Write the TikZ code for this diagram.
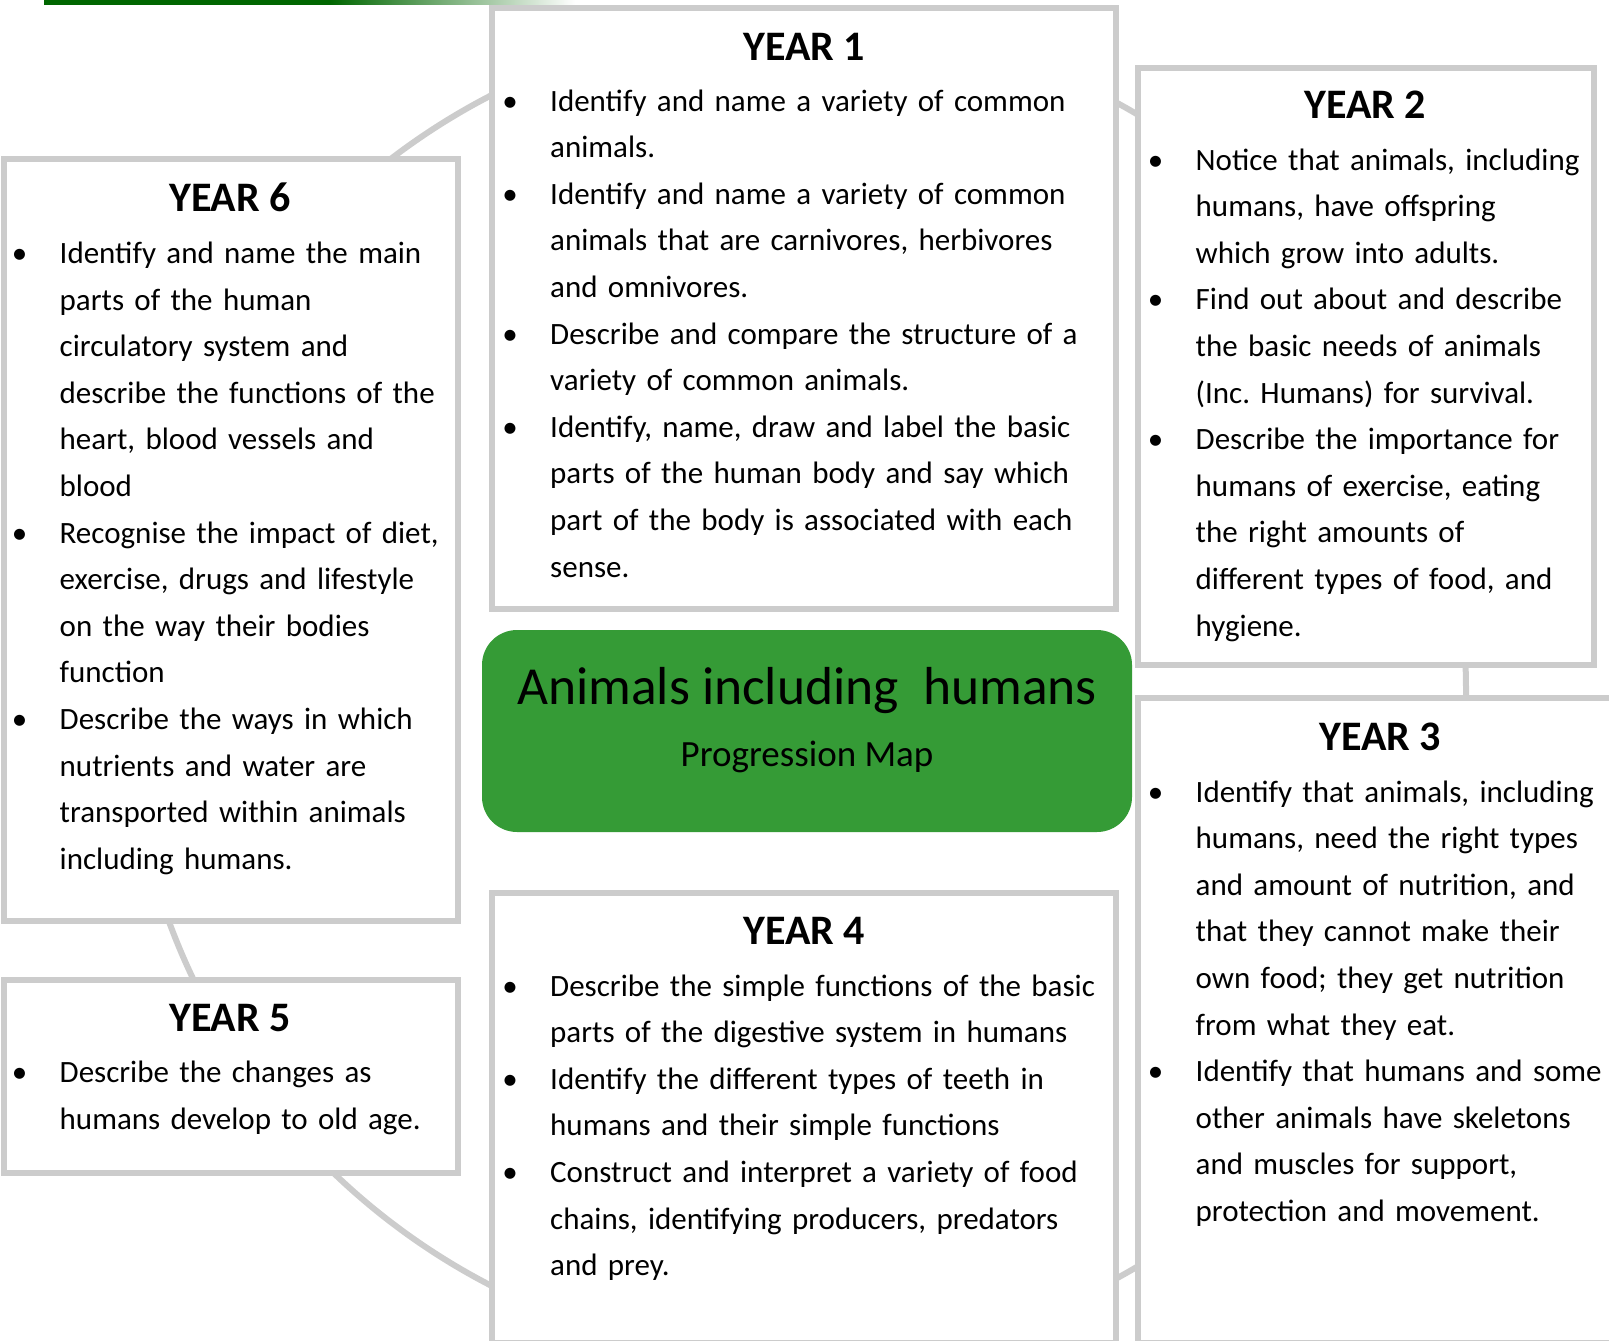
\documentclass[tikz,border=0pt]{standalone}
\usepackage{fontspec}
\setmainfont{Carlito}
\frenchspacing
\definecolor{boxgray}{HTML}{CCCCCC}
\definecolor{hubgreen}{RGB}{53,155,54}
\definecolor{topgreen}{RGB}{0,102,0}
% bullet hung to the left of the item text
\newcommand\bul{\noindent\llap{\makebox[80pt][c]{\textbullet}}}
\tikzset{
  yearbox/.style={draw=boxgray, line width=6pt, fill=white, rectangle, inner sep=0pt},
  yeartitle/.style={anchor=base, inner sep=0pt, font=\fontsize{42}{50}\selectfont\bfseries},
  yearbody/.style={anchor=base west, inner sep=0pt, text width=600pt, align=left,
    font=\fontsize{31}{46.6}\selectfont},
  hub/.style={fill=hubgreen, rectangle, rounded corners=35pt, inner sep=0pt},
  cycle ring/.style={draw=boxgray, line width=6pt, circle, inner sep=0pt}
}
\begin{document}
\begin{tikzpicture}[x=1pt, y=-1pt]
\useasboundingbox (0,0) rectangle (1609,1341);

% rule along the top edge
\fill[topgreen] (44,0) rectangle (330,4.5);
\shade[left color=topgreen, right color=white] (330,0) rectangle (575,4.5);

% the ring that links the years in order
\node[cycle ring, minimum size=1338pt] (ring) at (797,690.5) {};

% year boxes
\node[yearbox, minimum width=624.5pt, minimum height=601pt]   (y1) at (803.75,308.5) {};
\node[yearbox, minimum width=456pt,   minimum height=597.5pt] (y2) at (1366,366.25) {};
\node[yearbox, minimum width=485pt,   minimum height=645.5pt] (y3) at (1380.5,1020.25) {};
\node[yearbox, minimum width=624.5pt, minimum height=450pt]   (y4) at (803.75,1118) {};
\node[yearbox, minimum width=454.5pt, minimum height=193pt]   (y5) at (230.75,1076.5) {};
\node[yearbox, minimum width=454.5pt, minimum height=761.5pt] (y6) at (230.75,539.75) {};

% central title
\node[hub, minimum width=650pt, minimum height=202pt] (hub) at (807,731) {};
\node[anchor=base, inner sep=0pt, font=\fontsize{53.5}{60}\selectfont] (hubtitle) at (807,704) {Animals including\ \ humans};
\node[anchor=base, inner sep=0pt, font=\fontsize{37}{42}\selectfont] (hubsub) at (807,766) {Progression Map};

% YEAR 1
\node[yeartitle] (t1) at (804,60) {YEAR 1};
\node[yearbody] (b1) at (550,111) {%
\bul Identify and name a variety of common\\animals.\par
\bul Identify and name a variety of common\\animals that are carnivores, herbivores\\and omnivores.\par
\bul Describe and compare the structure of a\\variety of common animals.\par
\bul Identify, name, draw and label the basic\\parts of the human body and say which\\part of the body is associated with each\\sense.};

% YEAR 2
\node[yeartitle] (t2) at (1365,118) {YEAR 2};
\node[yearbody] (b2) at (1195.5,170) {%
\bul Notice that animals, including\\humans, have offspring\\which grow into adults.\par
\bul Find out about and describe\\the basic needs of animals\\(Inc. Humans) for survival.\par
\bul Describe the importance for\\humans of exercise, eating\\the right amounts of\\different types of food, and\\hygiene.};

% YEAR 3
\node[yeartitle] (t3) at (1380,750.5) {YEAR 3};
\node[yearbody] (b3) at (1195.5,802) {%
\bul Identify that animals, including\\humans, need the right types\\and amount of nutrition, and\\that they cannot make their\\own food; they get nutrition\\from what they eat.\par
\bul Identify that humans and some\\other animals have skeletons\\and muscles for support,\\protection and movement.};

% YEAR 4
\node[yeartitle] (t4) at (804,944.5) {YEAR 4};
\node[yearbody] (b4) at (550,996) {%
\bul Describe the simple functions of the basic\\parts of the digestive system in humans\par
\bul Identify the different types of teeth in\\humans and their simple functions\par
\bul Construct and interpret a variety of food\\chains, identifying producers, predators\\and prey.};

% YEAR 5
\node[yeartitle] (t5) at (230,1031.5) {YEAR 5};
\node[yearbody] (b5) at (59.5,1082.5) {%
\bul Describe the changes as\\humans develop to old age.};

% YEAR 6
\node[yeartitle] (t6) at (230,211.5) {YEAR 6};
\node[yearbody] (b6) at (59.5,263.5) {%
\bul Identify and name the main\\parts of the human\\circulatory system and\\describe the functions of the\\heart, blood vessels and\\blood\par
\bul Recognise the impact of diet,\\exercise, drugs and lifestyle\\on the way their bodies\\function\par
\bul Describe the ways in which\\nutrients and water are\\transported within animals\\including humans.};
\end{tikzpicture}
\end{document}
